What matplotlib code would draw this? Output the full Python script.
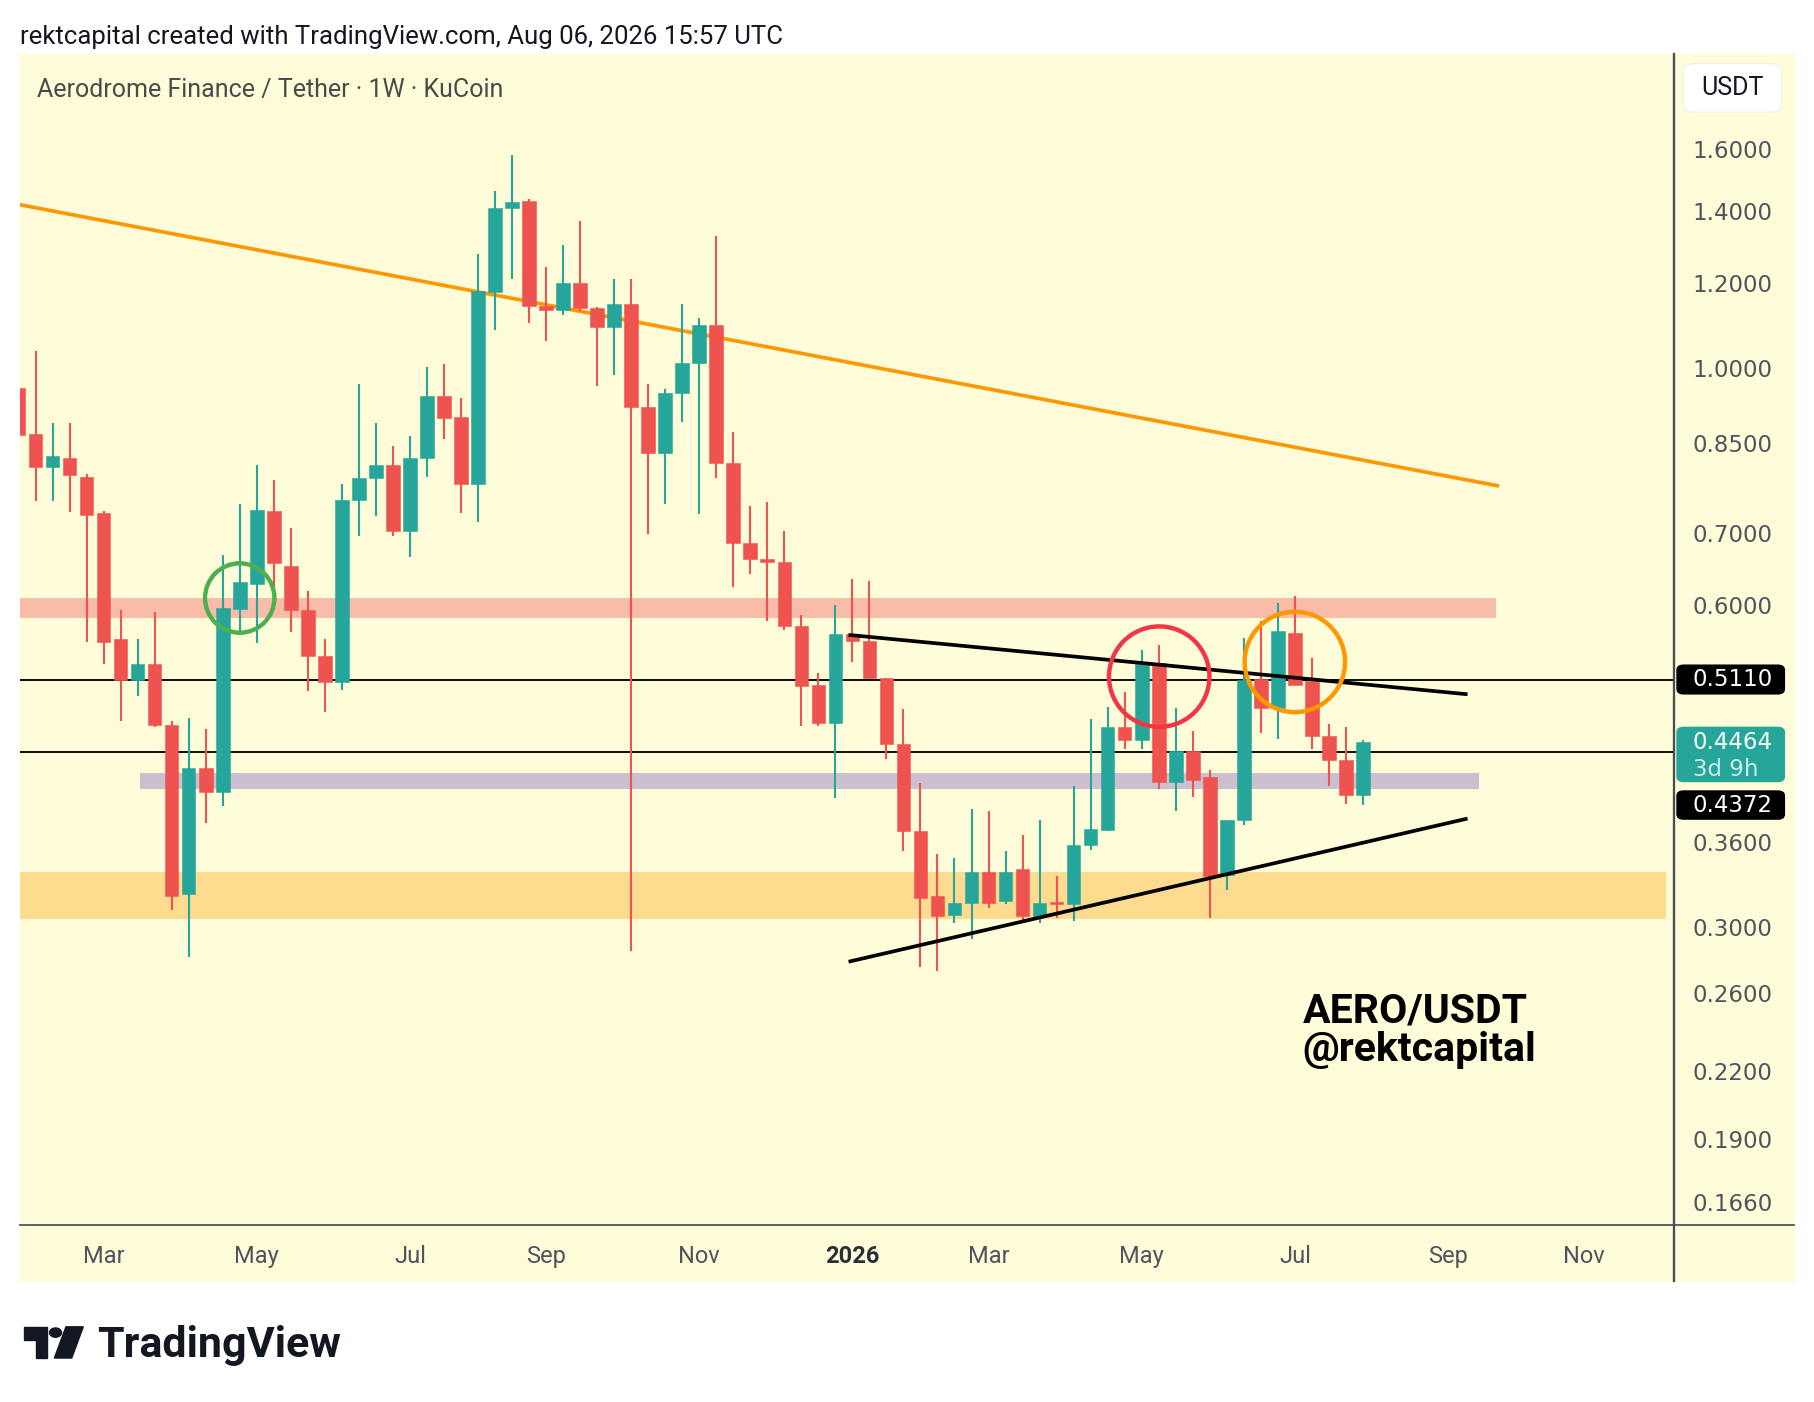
import numpy as np
import pandas as pd
import matplotlib
matplotlib.use("Agg")
import matplotlib.pyplot as plt
from matplotlib.patches import Rectangle, FancyBboxPatch, Polygon, Circle
from matplotlib.lines import Line2D
from matplotlib.ticker import NullLocator

plt.rcParams['font.family'] = ['Roboto', 'DejaVu Sans']

# weekly AERO/USDT candles (KuCoin)
weeks = pd.date_range('2025-01-27', periods=80, freq='W-MON')
opens = [0.957, 0.866, 0.808, 0.823, 0.790, 0.732, 0.557, 0.510, 0.528, 0.463,
         0.322, 0.422, 0.401, 0.595, 0.628, 0.734, 0.653, 0.594, 0.538, 0.508,
         0.752, 0.789, 0.811, 0.703, 0.823, 0.941, 0.899, 0.779, 1.177, 1.409,
         1.432, 1.141, 1.132, 1.199, 1.137, 1.092, 1.146, 0.919, 0.832, 0.946,
         1.011, 1.095, 0.814, 0.685, 0.662, 0.658, 0.574, 0.505, 0.465, 0.563,
         0.555, 0.513, 0.445, 0.369, 0.321, 0.308, 0.316, 0.338, 0.317, 0.340,
         0.307, 0.3163, 0.3152, 0.3577, 0.370, 0.461, 0.449, 0.5297, 0.410, 0.438,
         0.414, 0.3353, 0.3775, 0.5117, 0.481, 0.5651, 0.5095, 0.4528, 0.4301, 0.3985]
highs = [0.965, 1.037, 0.887, 0.887, 0.795, 0.735, 0.593, 0.558, 0.591, 0.467,
         0.470, 0.459, 0.668, 0.746, 0.811, 0.785, 0.708, 0.618, 0.558, 0.779,
         0.965, 0.888, 0.845, 0.863, 1.002, 1.008, 0.937, 1.278, 1.464, 1.581,
         1.4385, 1.243, 1.302, 1.370, 1.140, 1.209, 1.209, 0.966, 0.954, 1.146,
         1.112, 1.327, 0.870, 0.742, 0.748, 0.703, 0.5875, 0.518, 0.600, 0.634,
         0.632, 0.513, 0.480, 0.409, 0.351, 0.348, 0.387, 0.385, 0.353, 0.3655,
         0.3775, 0.3346, 0.406, 0.469, 0.482, 0.497, 0.545, 0.551, 0.481, 0.457,
         0.421, 0.3775, 0.559, 0.580, 0.602, 0.611, 0.5354, 0.4644, 0.4614, 0.4487]
lows = [0.862, 0.750, 0.750, 0.733, 0.554, 0.528, 0.467, 0.493, 0.461, 0.311,
        0.281, 0.375, 0.389, 0.562, 0.553, 0.619, 0.566, 0.4985, 0.476, 0.500,
        0.696, 0.727, 0.696, 0.665, 0.790, 0.857, 0.731, 0.718, 1.085, 1.209,
        1.101, 1.059, 1.120, 1.130, 0.961, 0.984, 0.285, 0.699, 0.746, 0.890,
        0.730, 0.788, 0.624, 0.641, 0.580, 0.569, 0.462, 0.462, 0.396, 0.531,
        0.5125, 0.431, 0.353, 0.275, 0.273, 0.3025, 0.292, 0.3125, 0.315, 0.3025,
        0.3025, 0.3058, 0.304, 0.354, 0.369, 0.440, 0.440, 0.4036, 0.385, 0.397,
        0.306, 0.325, 0.374, 0.4555, 0.450, 0.505, 0.4397, 0.4066, 0.391, 0.390]
closes = [0.865, 0.808, 0.827, 0.793, 0.728, 0.554, 0.510, 0.528, 0.463, 0.321,
          0.422, 0.401, 0.596, 0.630, 0.736, 0.656, 0.594, 0.537, 0.508, 0.752,
          0.789, 0.811, 0.703, 0.823, 0.941, 0.898, 0.779, 1.179, 1.410, 1.429,
          1.141, 1.132, 1.199, 1.137, 1.092, 1.146, 0.919, 0.832, 0.946, 1.011,
          1.095, 0.814, 0.685, 0.662, 0.658, 0.574, 0.504, 0.465, 0.563, 0.555,
          0.513, 0.445, 0.369, 0.319, 0.307, 0.316, 0.3375, 0.316, 0.338, 0.307,
          0.316, 0.3152, 0.3577, 0.3703, 0.461, 0.449, 0.5286, 0.410, 0.438, 0.412,
          0.335, 0.3775, 0.5106, 0.481, 0.5675, 0.5055, 0.4528, 0.4301, 0.3985, 0.4464]

price_ticks = [1.6, 1.4, 1.2, 1.0, 0.85, 0.7, 0.6, 0.36, 0.30, 0.26, 0.22, 0.19, 0.166]
month_idx = [5, 14, 23, 31, 40, 49, 57, 66, 75, 84, 92]
month_labels = ['Mar', 'May', 'Jul', 'Sep', 'Nov', '2026', 'Mar', 'May', 'Jul', 'Sep', 'Nov']

# drawings (week index, price)
level_lines = [0.511, 0.4372]
last_price = 0.4464
pink_zone = (-1, 86.8, 0.583, 0.609)
lilac_zone = (7.14, 85.8, 0.404, 0.418)
orange_zone = (-1, 96.8, 0.305, 0.338)
orange_trend = ([0.07, 87.0], [1.420, 0.775])
upper_trend = ([48.88, 85.04], [0.5623, 0.4952])
lower_trend = ([48.88, 85.04], [0.2786, 0.3785])
circles = [(13, 0.609, '#4CAF50', 30), (67.03, 0.5142, '#F23645', 43.4), (75.0, 0.5307, '#FF9800', 43.4)]

UP, DOWN = '#26A69A', '#EF5350'
BG = '#FFFDD9'
AXIS = '#4A4D57'
TXT = '#50535E'

# layout is measured on a 1568x1212 grid, saved at 1814x1402
GW, GH = 1568, 1212
S = 1814 / GW
def fx(x): return x / GW
def fy(y): return 1 - y / GH
def pt(d): return d * S * 72 / 100

fig = plt.figure(figsize=(18.14, 14.02), dpi=100)
fig.patch.set_facecolor('white')
fig.patches.append(Rectangle((fx(17), fy(1107)), fx(1551) - fx(17), fy(47) - fy(1107),
                             transform=fig.transFigure, color=BG, zorder=-5))

ax_top, ax_bot = 47, 1059
ax = fig.add_axes([fx(17), fy(ax_bot), fx(1447) - fx(17), fy(ax_top) - fy(ax_bot)])
ax.set_facecolor(BG)
for sp in ax.spines.values():
    sp.set_visible(False)

ylo, yhi = 0.15793, 1.9626
ax.set_yscale('log')
ax.set_ylim(ylo, yhi)
ax.set_xlim(0.068, 97.28)

x = np.arange(len(weeks))
o, h, l, c = map(np.array, (opens, highs, lows, closes))
cols = np.where(c >= o, UP, DOWN)
ax.vlines(x, l, h, colors=cols, linewidth=pt(1.8), zorder=3)
bottom = np.minimum(o, c)
height = np.maximum(np.abs(c - o), 0.0015)
ax.bar(x, height, width=0.8, bottom=bottom, color=cols, edgecolor=cols, linewidth=0.4, zorder=4)

for (x0, x1, lo, hi), col in ((pink_zone, '#F9BCA9'), (lilac_zone, '#CCBFD0'), (orange_zone, '#FDDB8F')):
    ax.add_patch(Rectangle((x0, lo), x1 - x0, hi - lo, color=col, lw=0, zorder=1))
for lv in level_lines:
    ax.axhline(lv, color='black', lw=pt(1.6), zorder=2)
ax.plot(*orange_trend, color='#FF9800', lw=pt(3.2), zorder=2, solid_capstyle='butt')
ax.plot(*upper_trend, color='black', lw=pt(3.2), zorder=5)
ax.plot(*lower_trend, color='black', lw=pt(3.2), zorder=5)
for cx, cy, col, r in circles:
    ax.scatter([cx], [cy], s=(2 * pt(r)) ** 2, facecolors='none', edgecolors=col,
               linewidths=pt(3.8), zorder=6)

ax.yaxis.tick_right()
ax.yaxis.set_minor_locator(NullLocator())
ax.set_yticks(price_ticks, [f'{v:.4f}' for v in price_ticks])
ax.tick_params(axis='y', length=0, pad=pt(16), labelsize=16.5, labelcolor=TXT)
for t in ax.get_yticklabels():
    t.set_fontfamily('DejaVu Sans')
ax.set_xticks(month_idx, month_labels)
ax.tick_params(axis='x', length=0, pad=pt(17.5), labelsize=17, labelcolor=TXT)
for t in ax.get_xticklabels():
    if t.get_text() == '2026':
        t.set_fontweight('bold')
        t.set_color('#2A2E39')

# separators of the price and time scales
fig.lines.append(Line2D([fx(1447), fx(1447)], [fy(47), fy(1107)], transform=fig.transFigure,
                        color=AXIS, lw=pt(2)))
fig.lines.append(Line2D([fx(17), fx(1551)], [fy(1059), fy(1059)], transform=fig.transFigure,
                        color=AXIS, lw=pt(1.5)))

def price_y(p):
    return ax_top + (np.log(yhi) - np.log(p)) / (np.log(yhi) - np.log(ylo)) * (ax_bot - ax_top)

def tag(y0, y1, col):
    fig.patches.append(FancyBboxPatch((fx(1449), fy(y1)), fx(1543) - fx(1449), fy(y0) - fy(y1),
                                      boxstyle='round,pad=0,rounding_size=0.004',
                                      transform=fig.transFigure, fc=col, ec='none', zorder=5))

yl = price_y(level_lines[0])
tag(yl - 13, yl + 13, 'black')
fig.text(fx(1463), fy(yl), f'{level_lines[0]:.4f}', color='white', fontsize=16.5,
         family='DejaVu Sans', va='center', zorder=6)
yp = price_y(last_price)
tag(yp - 13.5, yp + 34.5, UP)
fig.text(fx(1463), fy(yp), f'{last_price:.4f}', color='white', fontsize=16.5,
         family='DejaVu Sans', va='center', zorder=6)
fig.text(fx(1463), fy(yp + 23.5), '3d 9h', color='#CDEFEA', fontsize=16.5,
         family='DejaVu Sans', va='center', zorder=6)
yq = yp + 41.5
tag(yq, yq + 25.5, 'black')
fig.text(fx(1463), fy(yq + 12.8), f'{level_lines[1]:.4f}', color='white', fontsize=16.5,
         family='DejaVu Sans', va='center', zorder=6)

# currency button
fig.patches.append(FancyBboxPatch((fx(1455), fy(97)), fx(1540) - fx(1455), fy(55) - fy(97),
                                  boxstyle='round,pad=0,rounding_size=0.006',
                                  transform=fig.transFigure, fc='white', ec='#F0F0EA', lw=0.8, zorder=5))
fig.text(fx(1497.5), fy(76), 'USDT', ha='center', va='center', fontsize=18, color='#131722', zorder=6)

fig.text(fx(17), fy(32), 'rektcapital created with TradingView.com, Aug 06, 2026 15:57 UTC',
         ha='left', va='center', fontsize=18.5, color='#131722')
fig.text(fx(32), fy(78), 'Aerodrome Finance / Tether · 1W · KuCoin',
         ha='left', va='center', fontsize=18, color='#4A4A4A')

fig.text(fx(1126), fy(884), 'AERO/USDT', ha='left', va='baseline', fontsize=29.5,
         fontweight='bold', color='black')
fig.text(fx(1126), fy(917), '@rektcapital', ha='left', va='baseline', fontsize=29.5,
         fontweight='bold', color='black')

# TradingView logo
logo = [Polygon([(21, 1147), (41, 1147), (41, 1174), (31, 1174), (31, 1158), (21, 1158)]),
        Circle((48, 1152), 5.2),
        Polygon([(57, 1147), (72, 1147), (62, 1174), (47, 1174)])]
for p in logo:
    if isinstance(p, Circle):
        p = Circle((fx(48), fy(1152)), 5.2 / GW, transform=fig.transFigure, color='#131722')
    else:
        pts = [(fx(a), fy(b)) for a, b in p.get_xy()]
        p = Polygon(pts, closed=True, transform=fig.transFigure, color='#131722')
    fig.patches.append(p)
fig.text(fx(84), fy(1173), 'TradingView', ha='left', va='baseline', fontsize=31,
         fontweight='bold', color='#131722')

fig.savefig('out.png', dpi=100, facecolor='white')
